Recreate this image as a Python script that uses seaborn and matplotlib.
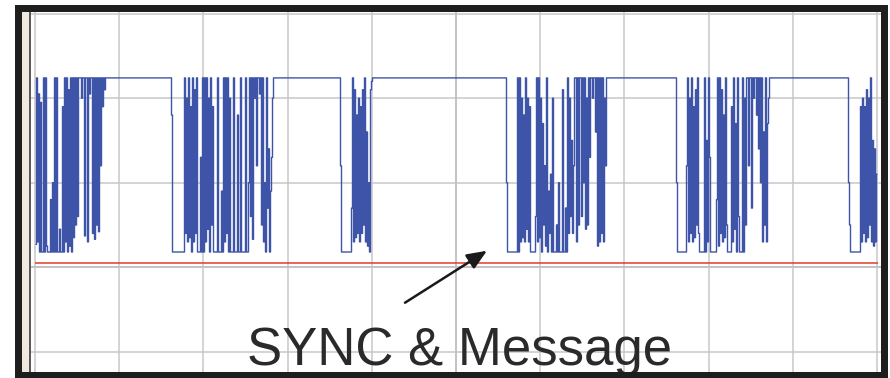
import numpy as np
import pandas as pd
import matplotlib
matplotlib.use("Agg")
import matplotlib.pyplot as plt
import seaborn as sns
from matplotlib.ticker import MultipleLocator
from matplotlib.patches import Rectangle

# ---------------- data (time in samples, level in screen divisions) ----------------
HIGH = 2.24
LOW = 0.18
ref_level = 0.05
record_length = 842
burst_starts = [1, 137, 306, 472, 642, 814]

burst1 = [0.27, HIGH, 0.30, 2.05, LOW, 1.95, LOW, LOW, HIGH, LOW, HIGH, 0.25, LOW, LOW, LOW, 0.8,
          LOW, 1.0, LOW, HIGH, LOW, HIGH, LOW, LOW, 0.45, LOW, LOW, 1.9, LOW, HIGH, 0.3, HIGH,
          LOW, 2.1, 0.25, HIGH, LOW, HIGH, 0.35, HIGH, 0.5, HIGH, 0.6, HIGH, HIGH, HIGH, 2.0,
          HIGH, HIGH, 0.37, HIGH, HIGH, 0.3, HIGH, 2.05, HIGH, HIGH, 0.4, HIGH, 0.33, HIGH, 0.5,
          HIGH, 0.42, HIGH, 1.2, HIGH, 1.9, HIGH, 2.1, HIGH, HIGH]
burst2 = [1.8] + [LOW] * 12 + [
          HIGH, 0.4, 2.0, 0.3, HIGH, 0.35, 1.9, LOW, HIGH, 0.3, 2.1, 0.4, HIGH, LOW, LOW, LOW,
          1.3, LOW, HIGH, LOW, HIGH, 0.3, HIGH, 0.45, 2.0, LOW, HIGH, 0.5, 1.9, LOW, LOW, LOW,
          LOW, HIGH, LOW, LOW, LOW, 0.9, LOW, HIGH, 0.3, HIGH, 0.4, HIGH, LOW, 2.0, LOW, LOW,
          LOW, HIGH, LOW, LOW, LOW, 1.8, LOW, LOW, HIGH, LOW, LOW, LOW, LOW, HIGH, LOW, LOW, 1.0,
          HIGH, 0.6, HIGH, 0.33, HIGH, 2.0, HIGH, 1.2, HIGH, HIGH, 2.05, HIGH, 0.5, HIGH, 0.3,
          1.0, LOW, HIGH, 0.7, 1.4, LOW, 0.9, 1.3, 2.0, HIGH]
burst3 = [1.2] + [LOW] * 10 + [
          0.7, HIGH, 0.3, 2.1, 0.35, 1.8, 0.4, 2.0, 0.3, 1.9, 0.4, 2.1, 0.5, HIGH, 0.3, 1.6,
          0.25, 1.0, LOW, 2.1, 2.2]
burst4 = [1.0] + [LOW] * 10 + [
          HIGH, LOW, HIGH, 0.3, 2.0, 0.35, 1.8, 0.3, HIGH, 0.45, 2.0, 0.3, 1.9, LOW, LOW, LOW,
          LOW, LOW, 0.6, HIGH, 0.3, HIGH, 0.35, 2.0, LOW, 1.7, 0.5, 1.2, 0.25, HIGH, LOW, 0.9,
          0.4, 1.1, LOW, 2.0, LOW, LOW, LOW, 0.5, LOW, 1.0, LOW, LOW, LOW, 2.1, LOW, LOW, 0.7,
          LOW, HIGH, 0.4, 2.0, 0.6, 1.5, 0.4, 1.2, HIGH, HIGH, 0.3, HIGH, 0.5, HIGH, HIGH, 0.6,
          HIGH, 1.0, HIGH, 0.45, 2.0, 0.5, HIGH, 1.3, HIGH, HIGH, 2.0, HIGH, HIGH, 1.6, HIGH,
          0.25, HIGH, 0.3, HIGH, 0.4, HIGH, 0.3, 2.0, 1.2]
burst5 = [1.0] + [LOW] * 9 + [
          1.2, HIGH, 0.3, 2.0, 0.4, HIGH, 0.3, 1.9, 0.35, 2.1, 0.5, HIGH, 0.4, LOW, LOW, LOW,
          LOW, LOW, HIGH, LOW, 1.5, 0.3, HIGH, 1.3, LOW, LOW, LOW, LOW, LOW, LOW, 0.8, HIGH,
          0.25, HIGH, 0.4, 2.1, 0.3, 1.8, 0.35, HIGH, 0.5, LOW, LOW, LOW, LOW, 1.9, 0.3, HIGH,
          0.45, 1.7, LOW, HIGH, 0.6, LOW, LOW, LOW, HIGH, LOW, 2.0, 0.5, HIGH, HIGH, 1.2, HIGH,
          HIGH, 0.7, HIGH, 2.0, HIGH, HIGH, 1.8, HIGH, 1.4, HIGH, 1.0, HIGH, 0.3, 1.6, 0.5,
          HIGH, 0.3, 1.7, 2.0]
burst6 = [1.0, 0.5] + [LOW] * 10 + [
          1.9, 0.3, 2.0, 0.4, 1.9, 0.3, 2.1, 0.35, 2.0, 0.5, HIGH, 0.3, 1.5, 0.25, 1.4, 0.3, 1.1]
bursts = [burst1, burst2, burst3, burst4, burst5, burst6]

caption = "SYNC & Message"

# ---------------- build the sampled record ----------------
t = np.arange(1, record_length + 1)
level = np.full(t.size, HIGH)           # idle (high) level between bursts
for start, b in zip(burst_starts, bursts):
    i0 = start - 1
    level[i0:i0 + len(b)] = b
df = pd.DataFrame({"t": t, "level": level})

# ---------------- figure ----------------
sns.set_style("white")
plt.rcParams["font.family"] = ["Liberation Sans", "DejaVu Sans"]

W, HT = 890, 378
fig = plt.figure(figsize=(W / 100, HT / 100), dpi=100)
fig.patch.set_facecolor("white")


def fx(px):
    return px / W


def fy(py):
    return 1 - py / HT


ax = fig.add_axes([fx(31), fy(372), fx(881) - fx(31), fy(12) - fy(372)])
ax.set_facecolor("white")

sns.lineplot(data=df, x="t", y="level", ax=ax, estimator=None, drawstyle="steps-mid",
             color="#3d54a8", lw=1.0, zorder=4)

ax.set_xlim(-4, 846)
ax.set_ylim(-1.24, 3.02)
ax.xaxis.set_major_locator(MultipleLocator(84.2))
ax.xaxis.set_minor_locator(MultipleLocator(84.2 / 5))
ax.yaxis.set_major_locator(MultipleLocator(1))
ax.yaxis.set_minor_locator(MultipleLocator(0.2))
ax.grid(True, which="major", color="#c8c8c8", lw=1.1, zorder=0)
ax.set_axisbelow(True)

for s in ["top", "right"]:
    ax.spines[s].set_visible(False)
ax.spines["left"].set_position(("data", 421))
ax.spines["bottom"].set_position(("data", 0))
for s in ["left", "bottom"]:
    ax.spines[s].set_color("#c0c0c0")
    ax.spines[s].set_linewidth(1.2)
ax.tick_params(which="both", direction="inout", length=5.5, width=1.0, color="#a8a8a8",
               labelleft=False, labelbottom=False)
ax.set_xlabel("")
ax.set_ylabel("")

ax.hlines(ref_level, 0, record_length + 1, color="#e3392c", lw=1.1, zorder=3)

ax.text(424.5, -1.154, caption, ha="center", va="baseline", fontsize=38,
        color="#2a2a2a", zorder=6, clip_on=False)
ax.annotate("", xy=(452, 0.195), xytext=(370, -0.42),
            arrowprops=dict(arrowstyle="-|>,head_length=0.6,head_width=0.25",
                            color="#1a1a1a", lw=1.8, mutation_scale=20,
                            shrinkA=0, shrinkB=0), zorder=6)


def frame_rect(x0, y0, x1, y1, color):
    fig.add_artist(Rectangle((fx(x0), fy(y1)), fx(x1) - fx(x0), fy(y0) - fy(y1),
                             transform=fig.transFigure, color=color, zorder=10, lw=0))


frame_rect(15, 5, 888, 12, "#1e1e1e")
frame_rect(15, 372, 888, 378, "#1e1e1e")
frame_rect(15, 5, 22, 378, "#1e1e1e")
frame_rect(22, 12, 29, 372, "#efe9e0")
frame_rect(29, 12, 31, 372, "#5a5a5a")
frame_rect(881, 5, 888, 378, "#1e1e1e")

fig.savefig("out.png", dpi=100)
